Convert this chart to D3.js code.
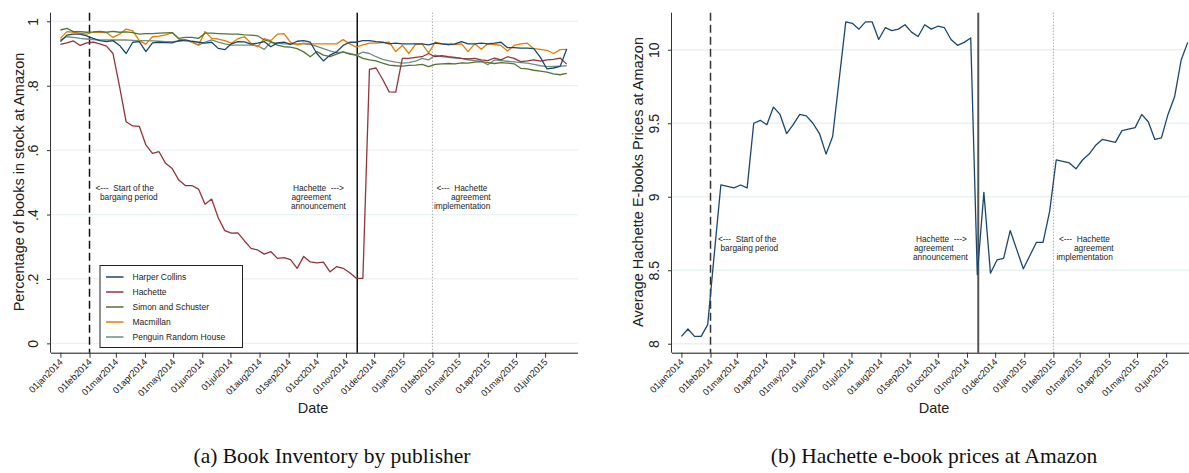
<!DOCTYPE html>
<html>
<head>
<meta charset="utf-8">
<script src="https://cdn.jsdelivr.net/npm/d3@7"></script>
<style>
  body { margin: 0; background: #fff; }
  svg text { font-family: "Liberation Sans", Arial, sans-serif; fill: #222; }
  .caption { font-family: "Liberation Serif", "DejaVu Serif", serif; fill: #111; }
</style>
</head>
<body>
<svg id="chart" width="1189" height="473"></svg>
<script>
// weekly observations, first one on 01jan2014
const firstWeek = new Date(2014, 0, 1);

const publishers = ["Harper Collins", "Hachette", "Simon and Schuster", "Macmillan", "Penguin Random House"];
const publisherColors = ["#1a476f", "#90353b", "#55752f", "#e37e00", "#6e8e84"];

const harperCollins = [0.937, 0.957, 0.96, 0.96, 0.955, 0.947, 0.94, 0.937, 0.94, 0.925,
  0.90, 0.935, 0.937, 0.906, 0.933, 0.935, 0.934, 0.933, 0.94, 0.942,
  0.938, 0.935, 0.932, 0.935, 0.916, 0.912, 0.93, 0.937, 0.936, 0.929,
  0.932, 0.937, 0.921, 0.933, 0.935, 0.928, 0.938, 0.94, 0.935, 0.9,
  0.877, 0.895, 0.905, 0.925, 0.935, 0.935, 0.94, 0.94, 0.937, 0.935,
  0.93, 0.932, 0.93, 0.93, 0.93, 0.93, 0.927, 0.932, 0.93, 0.928,
  0.93, 0.937, 0.93, 0.93, 0.932, 0.93, 0.932, 0.935, 0.918, 0.918,
  0.917, 0.917, 0.915, 0.888, 0.852, 0.855, 0.86, 0.914];

const hachette = [0.928, 0.933, 0.939, 0.925, 0.933, 0.935, 0.93, 0.923, 0.90, 0.797,
  0.688, 0.675, 0.674, 0.616, 0.59, 0.595, 0.559, 0.543, 0.507, 0.49,
  0.49, 0.479, 0.432, 0.448, 0.39, 0.35, 0.342, 0.343, 0.318, 0.295,
  0.29, 0.277, 0.285, 0.264, 0.266, 0.26, 0.233, 0.27, 0.253, 0.25,
  0.252, 0.222, 0.238, 0.233, 0.219, 0.202, 0.202, 0.851, 0.855, 0.82,
  0.781, 0.78, 0.885, 0.885, 0.888, 0.89, 0.9, 0.89, 0.893, 0.89,
  0.888, 0.885, 0.883, 0.885, 0.88, 0.878, 0.886, 0.88, 0.89, 0.885,
  0.875, 0.877, 0.88, 0.876, 0.88, 0.882, 0.886, 0.867];

const simonSchuster = [0.973, 0.978, 0.968, 0.968, 0.966, 0.967, 0.969, 0.966, 0.969, 0.966,
  0.967, 0.965, 0.96, 0.962, 0.962, 0.963, 0.964, 0.965, 0.947, 0.95,
  0.95, 0.947, 0.963, 0.963, 0.962, 0.961, 0.96, 0.96, 0.958, 0.957,
  0.955, 0.942, 0.937, 0.926, 0.921, 0.92, 0.915, 0.905, 0.89, 0.906,
  0.895, 0.89, 0.898, 0.905, 0.898, 0.895, 0.885, 0.88, 0.877, 0.87,
  0.864, 0.862, 0.861, 0.863, 0.864, 0.866, 0.859, 0.866, 0.868, 0.869,
  0.868, 0.871, 0.87, 0.873, 0.875, 0.872, 0.869, 0.872, 0.87, 0.868,
  0.854, 0.852, 0.848, 0.845, 0.842, 0.837, 0.834, 0.838];

const macmillan = [0.947, 0.968, 0.966, 0.963, 0.96, 0.966, 0.966, 0.965, 0.95, 0.96,
  0.976, 0.97, 0.94, 0.929, 0.952, 0.954, 0.958, 0.965, 0.945, 0.94,
  0.936, 0.926, 0.968, 0.947, 0.945, 0.94, 0.932, 0.946, 0.952, 0.932,
  0.921, 0.946, 0.94, 0.96, 0.962, 0.935, 0.927, 0.932, 0.93, 0.93,
  0.93, 0.93, 0.93, 0.943, 0.93, 0.92, 0.927, 0.932, 0.932, 0.934,
  0.935, 0.906, 0.925, 0.90, 0.928, 0.93, 0.902, 0.935, 0.93, 0.928,
  0.928, 0.93, 0.906, 0.93, 0.913, 0.93, 0.928, 0.925, 0.908, 0.925,
  0.93, 0.932, 0.915, 0.913, 0.91, 0.90, 0.912, 0.913];

const penguinRandomHouse = [0.942, 0.952, 0.95, 0.947, 0.945, 0.943, 0.942, 0.942, 0.942, 0.942,
  0.942, 0.941, 0.94, 0.94, 0.939, 0.938, 0.937, 0.937, 0.938, 0.94,
  0.935, 0.926, 0.935, 0.942, 0.935, 0.93, 0.926, 0.926, 0.926, 0.926,
  0.924, 0.913, 0.935, 0.932, 0.93, 0.93, 0.93, 0.93, 0.928, 0.922,
  0.915, 0.908, 0.903, 0.904, 0.9, 0.895, 0.904, 0.9, 0.89, 0.882,
  0.877, 0.873, 0.87, 0.872, 0.876, 0.885, 0.88, 0.895, 0.89, 0.888,
  0.886, 0.885, 0.88, 0.878, 0.876, 0.865, 0.88, 0.878, 0.876, 0.874,
  0.872, 0.87, 0.866, 0.862, 0.859, 0.86, 0.861, 0.862];

const hachettePrice = [8.05, 8.10, 8.05, 8.05, 8.13, 8.61, 9.08, 9.07, 9.06, 9.08,
  9.06, 9.50, 9.52, 9.49, 9.61, 9.56, 9.43, 9.49, 9.56, 9.55,
  9.50, 9.43, 9.29, 9.41, 9.80, 10.19, 10.18, 10.14, 10.19, 10.19,
  10.07, 10.15, 10.13, 10.14, 10.17, 10.12, 10.09, 10.17, 10.14, 10.16,
  10.15, 10.07, 10.03, 10.05, 10.08, 8.47, 9.03, 8.48, 8.57, 8.58,
  8.77, 8.64, 8.51, 8.60, 8.69, 8.69, 8.90, 9.25, 9.24, 9.23,
  9.19, 9.25, 9.29, 9.35, 9.39, 9.38, 9.37, 9.45, 9.46, 9.47,
  9.56, 9.51, 9.39, 9.40, 9.56, 9.68, 9.93, 10.05];

const inventoryTicks = [0, 0.2, 0.4, 0.6, 0.8, 1];
const inventoryTickLabels = ["0", ".2", ".4", ".6", ".8", "1"];
const priceTicks = [8, 8.5, 9, 9.5, 10];
const priceTickLabels = ["8", "8.5", "9", "9.5", "10"];

const events = [
  { date: new Date(2014, 1, 1), style: "dash" },
  { date: new Date(2014, 10, 13), style: "solid" },
  { date: new Date(2015, 1, 1), style: "dot" }
];

const svg = d3.select("#chart");
svg.append("rect").attr("width", 1189).attr("height", 473).attr("fill", "#fff");

const weekDate = (i) => d3.timeDay.offset(firstWeek, 7 * i);
const monthTicks = d3.timeMonth.range(new Date(2014, 0, 1), new Date(2015, 5, 2));
const fmtMonth = (d) => d3.timeFormat("%d%b%Y")(d).toLowerCase();

function drawPanel(opt) {
  const g = svg.append("g");
  const x = d3.scaleTime()
    .domain([new Date(2013, 11, 22), new Date(2015, 6, 6)])
    .range([opt.left, opt.left + 527]);
  const y = d3.scaleLinear().domain(opt.yDomain).range([352.7, 12.7]);

  const clipId = "clip" + opt.left;
  g.append("clipPath").attr("id", clipId)
    .append("rect").attr("x", opt.left).attr("y", 0).attr("width", 540).attr("height", 353);

  // grid
  g.selectAll(".grid").data(opt.yTicks).join("line")
    .attr("x1", opt.left).attr("x2", opt.left + 527)
    .attr("y1", (d) => y(d)).attr("y2", (d) => y(d))
    .attr("stroke", "#eaf2f3").attr("stroke-width", 1.3);

  // event lines
  events.forEach((e) => {
    const ln = g.append("line")
      .attr("x1", x(e.date)).attr("x2", x(e.date))
      .attr("y1", 12.7).attr("y2", 352.7);
    if (e.style === "dash") {
      ln.attr("stroke", opt.dashColor).attr("stroke-width", 1.5).attr("stroke-dasharray", "8,4");
    } else if (e.style === "solid") {
      ln.attr("stroke", opt.solidColor).attr("stroke-width", opt.solidWidth);
    } else {
      ln.attr("stroke", "#888").attr("stroke-width", 1).attr("stroke-dasharray", "1,2");
    }
  });

  // series
  const line = d3.line().x((d, i) => x(weekDate(i))).y((d) => y(d));
  const plot = g.append("g").attr("clip-path", `url(#${clipId})`);
  opt.series.forEach((s) => {
    plot.append("path").datum(s.values)
      .attr("d", line)
      .attr("fill", "none")
      .attr("stroke", s.color)
      .attr("stroke-width", 1.3)
      .attr("stroke-linejoin", "round");
  });

  // axes
  const yAxis = d3.axisLeft(y).tickValues(opt.yTicks).tickSize(4).tickPadding(3)
    .tickFormat((d, i) => opt.yTickLabels[i]);
  const ya = g.append("g").attr("transform", `translate(${opt.left},0)`).call(yAxis);
  ya.select(".domain").attr("d", `M-0.5,12.7V352.7`).attr("stroke", "#333");
  ya.selectAll(".tick line").attr("stroke", "#333");
  ya.selectAll(".tick text")
    .attr("font-size", 14).attr("fill", "#222")
    .attr("text-anchor", "middle")
    .attr("transform", "rotate(-90)")
    .attr("x", 0).attr("dy", 0)
    .attr("y", -13);

  const xAxis = d3.axisBottom(x).tickValues(monthTicks).tickSize(5).tickFormat(fmtMonth);
  const xa = g.append("g").attr("transform", "translate(0,352.7)").call(xAxis);
  xa.select(".domain").attr("d", `M${opt.left},0.5H${opt.left + 527}`).attr("stroke", "#111");
  xa.selectAll(".tick line").attr("stroke", "#333");
  xa.selectAll(".tick text")
    .attr("font-size", 9.3).attr("fill", "#222")
    .attr("text-anchor", "end")
    .attr("dy", 0).attr("y", 0)
    .attr("transform", "translate(2.5,10) rotate(-45)");

  // axis titles
  g.append("text").attr("x", opt.left + 262).attr("y", 413)
    .attr("text-anchor", "middle").attr("font-size", 14.5).text("Date");
  g.append("text")
    .attr("transform", `translate(${opt.yTitleX},182) rotate(-90)`)
    .attr("text-anchor", "middle").attr("font-size", 14.5).text(opt.yTitle);

  // annotations
  opt.notes.forEach((n) => {
    n.lines.forEach((txt, k) => {
      g.append("text").attr("x", n.x[k]).attr("y", n.y + k * 9)
        .attr("font-size", 8.3).attr("fill", "#222")
        .style("white-space", "pre")
        .text(txt);
    });
  });

  g.append("text").attr("class", "caption")
    .attr("x", opt.captionX).attr("y", 463)
    .attr("text-anchor", "middle").attr("font-size", 21.5)
    .text(opt.caption);
  return { g, x, y };
}

const left = drawPanel({
  left: 51,
  yDomain: [-0.029, 1.0267],
  yTicks: inventoryTicks,
  yTickLabels: inventoryTickLabels,
  yTitle: "Percentage of books in stock at Amazon",
  yTitleX: 23.5,
  dashColor: "#111",
  solidColor: "#111",
  solidWidth: 1.5,
  series: publishers.map((p, i) => ({
    name: p,
    color: publisherColors[i],
    values: [harperCollins, hachette, simonSchuster, macmillan, penguinRandomHouse][i]
  })).reverse(),
  notes: [
    { x: [95.5, 100], y: 191, lines: ["<---  Start of the", "bargaing period"] },
    { x: [293, 291.5, 291], y: 191, lines: ["Hachette  --->", "agreement", "announcement"] },
    { x: [436.5, 451, 434], y: 191, lines: ["<---  Hachette", "agreement", "implementation"] }
  ],
  caption: "(a) Book Inventory by publisher",
  captionX: 332
});

drawPanel({
  left: 672,
  yDomain: [7.939, 10.252],
  yTicks: priceTicks,
  yTickLabels: priceTickLabels,
  yTitle: "Average Hachette E-books Prices at Amazon",
  yTitleX: 642.5,
  dashColor: "#333",
  solidColor: "#555",
  solidWidth: 2,
  series: [{ name: "Hachette", color: "#1a476f", values: hachettePrice }],
  notes: [
    { x: [718, 720.5], y: 242, lines: ["<---  Start of the", "bargaing period"] },
    { x: [916, 914, 913], y: 242, lines: ["Hachette  --->", "agreement", "announcement"] },
    { x: [1059, 1074, 1056.5], y: 242, lines: ["<---  Hachette", "agreement", "implementation"] }
  ],
  caption: "(b) Hachette e-book prices at Amazon",
  captionX: 934
});

// legend
const legend = left.g.append("g").attr("transform", "translate(100,265.5)");
legend.append("rect").attr("width", 142.5).attr("height", 82)
  .attr("fill", "#fff").attr("stroke", "#222").attr("stroke-width", 1);
publishers.forEach((p, i) => {
  const ly = 11.5 + i * 15;
  legend.append("line").attr("x1", 6).attr("x2", 23.5).attr("y1", ly).attr("y2", ly)
    .attr("stroke", publisherColors[i]).attr("stroke-width", 1.5);
  legend.append("text").attr("x", 32.5).attr("y", ly + 3)
    .attr("font-size", 8.5).attr("fill", "#222").text(p);
});
</script>
</body>
</html>
